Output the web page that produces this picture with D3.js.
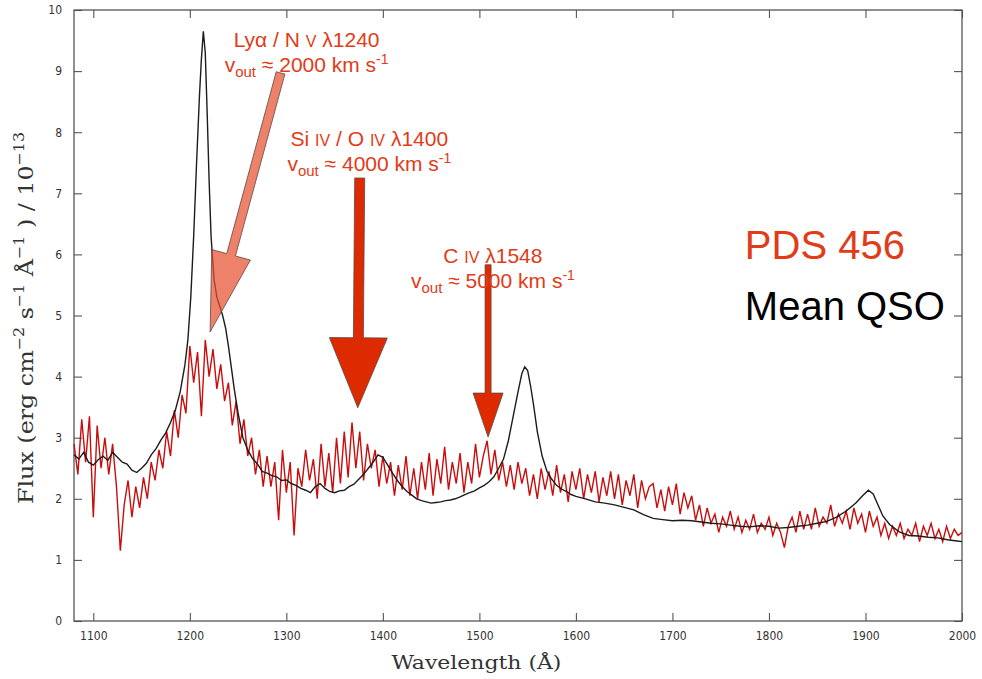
<!DOCTYPE html>
<html>
<head>
<meta charset="utf-8">
<script src="https://cdn.jsdelivr.net/npm/d3@7"></script>
<style>
body { margin: 0; background: #fff; }
svg { display: block; }
.axis text { font-family: "Liberation Sans Narrow", "DejaVu Sans Condensed", "Liberation Sans", sans-serif; font-size: 12px; fill: #333; }
.axis line { stroke: #555; stroke-width: 1.1; }
.note { font-family: "Liberation Sans", Arial, sans-serif; fill: #e23b17; }
</style>
</head>
<body>
<svg width="982" height="679"></svg>
<script>
// axis ranges + ticks
var waveDomain = [1080, 2000];
var fluxDomain = [0, 10];
var xTicks = [1100, 1200, 1300, 1400, 1500, 1600, 1700, 1800, 1900, 2000];
var yTicks = [0, 1, 2, 3, 4, 5, 6, 7, 8, 9, 10];

// Mean QSO composite (black)
var qsoWave = [1080, 1085, 1090, 1095, 1100, 1105, 1110, 1115, 1120, 1125, 1130, 1135, 1140, 1145,
               1150, 1155, 1160, 1165, 1170, 1175, 1180, 1185, 1190, 1195, 1198, 1201, 1204, 1207,
               1210, 1212, 1214, 1216, 1218, 1220, 1222, 1225, 1228, 1231, 1234, 1237, 1240, 1243,
               1246, 1250, 1255, 1260, 1265, 1270, 1275, 1280, 1285, 1290, 1295, 1300, 1305, 1310,
               1315, 1320, 1325, 1330, 1335, 1340, 1345, 1350, 1355, 1360, 1365, 1370, 1375, 1380,
               1385, 1390, 1395, 1400, 1405, 1410, 1415, 1420, 1425, 1430, 1435, 1440, 1445, 1450,
               1455, 1460, 1465, 1470, 1475, 1480, 1485, 1490, 1495, 1500, 1505, 1510, 1515, 1520,
               1525, 1530, 1535, 1540, 1544, 1547, 1550, 1553, 1556, 1560, 1565, 1570, 1575, 1580,
               1585, 1590, 1595, 1600, 1610, 1620, 1630, 1640, 1650, 1660, 1670, 1680, 1690, 1700,
               1710, 1720, 1730, 1740, 1750, 1760, 1770, 1780, 1790, 1800, 1810, 1820, 1830, 1840,
               1850, 1860, 1870, 1880, 1890, 1897, 1903, 1908, 1913, 1918, 1925, 1935, 1945, 1955,
               1965, 1975, 1985, 1995, 2000];
var qsoFlux = [2.72, 2.65, 2.76, 2.6, 2.55, 2.64, 2.7, 2.63, 2.76, 2.68, 2.6, 2.57, 2.47, 2.43,
               2.5, 2.58, 2.72, 2.82, 2.96, 3.08, 3.25, 3.45, 3.75, 4.2, 4.6, 5.3, 6.3, 7.5,
               8.6, 9.2, 9.65, 9.3, 8.3, 7.2, 6.3, 5.6, 5.3, 5.15, 5.0, 4.8, 4.5, 4.15,
               3.8, 3.4, 3.0, 2.8, 2.66, 2.57, 2.45, 2.42, 2.38, 2.36, 2.3, 2.31, 2.25, 2.22,
               2.17, 2.14, 2.1, 2.2, 2.25, 2.17, 2.12, 2.1, 2.13, 2.14, 2.2, 2.24, 2.32, 2.4,
               2.5, 2.6, 2.72, 2.68, 2.55, 2.42, 2.3, 2.2, 2.12, 2.06, 2.0, 1.97, 1.95, 1.93,
               1.94, 1.95, 1.97, 1.98, 2.0, 2.03, 2.07, 2.1, 2.13, 2.18, 2.22, 2.28, 2.36, 2.5,
               2.65, 2.95, 3.35, 3.75, 4.05, 4.16, 4.1, 3.85, 3.55, 3.1, 2.7, 2.45, 2.32, 2.22,
               2.16, 2.12, 2.07, 2.04, 2.0, 1.95, 1.93, 1.9, 1.86, 1.82, 1.74, 1.68, 1.66, 1.64,
               1.65, 1.64, 1.62, 1.6, 1.59, 1.57, 1.55, 1.54, 1.56, 1.55, 1.52, 1.53, 1.55, 1.57,
               1.6, 1.63, 1.7, 1.8, 1.93, 2.05, 2.14, 2.08, 1.9, 1.72, 1.58, 1.46, 1.4, 1.39,
               1.37, 1.36, 1.33, 1.31, 1.3];

// PDS 456 spectrum (red), 4 A bins starting at 1080 A
var pdsStart = 1080, pdsStep = 4;
var pdsFlux = [
  2.9, 2.4, 3.3, 2.6, 3.35, 1.7, 3.2, 2.5, 3.0, 2.4,
  2.9, 2.2, 1.15, 1.9, 2.3, 1.7, 2.2, 1.85, 2.35, 2.0,
  2.6, 2.3, 2.8, 2.5, 3.1, 2.7, 3.45, 3.0, 3.7, 3.4,
  4.5, 3.9, 4.4, 3.35, 4.6, 4.0, 4.45, 3.8, 4.2, 3.6,
  3.9, 3.2, 3.6, 2.9, 3.3, 2.7, 3.0, 2.4, 2.8, 2.2,
  2.7, 2.2, 2.6, 1.65, 2.8, 2.1, 2.6, 1.4, 2.5, 2.2,
  2.8, 2.3, 2.65, 2.0, 2.9, 2.2, 2.75, 2.1, 3.0, 2.25,
  3.1, 2.35, 3.25, 2.5, 3.1, 2.3, 2.9, 2.5, 2.8, 2.2,
  2.7, 2.25, 2.6, 2.05, 2.55, 2.15, 2.7, 2.05, 2.5, 2.0,
  2.6, 2.15, 2.75, 2.05, 2.65, 2.25, 2.85, 2.15, 2.6, 2.25,
  2.75, 2.1, 2.6, 2.25, 2.9, 2.35, 2.7, 2.95, 2.4, 2.8,
  2.3, 2.6, 2.2, 2.55, 2.15, 2.6, 2.25, 2.5, 2.05, 2.4,
  2.0, 2.5, 2.15, 2.45, 2.05, 2.55, 2.1, 2.4, 1.95, 2.45,
  2.15, 2.5, 2.0, 2.4, 2.1, 2.45, 1.95, 2.35, 2.05, 2.45,
  2.0, 2.4, 1.9, 2.3, 2.05, 2.4, 1.85, 2.3, 2.0, 2.2,
  2.25, 1.85, 2.15, 1.8, 2.2, 1.9, 2.25, 1.75, 2.1, 1.85,
  2.05, 1.65, 1.9, 1.55, 1.85, 1.6, 1.75, 1.45, 1.7, 1.55,
  1.8, 1.5, 1.7, 1.45, 1.65, 1.5, 1.75, 1.45, 1.6, 1.5,
  1.7, 1.4, 1.6, 1.45, 1.2, 1.55, 1.7, 1.45, 1.8, 1.5,
  1.75, 1.5, 1.85, 1.55, 1.7, 1.6, 1.9, 1.55, 1.75, 1.6,
  1.8, 1.5, 1.85, 1.6, 1.75, 1.45, 1.8, 1.55, 1.7, 1.4,
  1.6, 1.35, 1.55, 1.4, 1.6, 1.35, 1.5, 1.4, 1.6, 1.3,
  1.55, 1.4, 1.6, 1.35, 1.5, 1.3, 1.55, 1.35, 1.5, 1.4,
  1.45];

// absorption arrows: [wavelength, flux] of tail and tip
var arrowNames = ["lya", "siiv", "civ"];
var arrowTail = [[1294, 8.97], [1376, 7.25], [1509, 5.83]];
var arrowTip  = [[1221, 4.73], [1374, 3.49], [1509, 3.01]];

// label anchors (line centres), [wavelength, flux]
var labelPos = [[1321, 9.39], [1386, 7.77], [1514, 5.86]];
var labelVel = ["2000", "4000", "5000"];


var svg = d3.select("svg"),
    margin = {top: 10, right: 20, bottom: 58, left: 74},
    width = +svg.attr("width") - margin.left - margin.right,
    height = +svg.attr("height") - margin.top - margin.bottom,
    g = svg.append("g").attr("transform", "translate(" + margin.left + "," + margin.top + ")");

var x = d3.scaleLinear().domain(waveDomain).range([0, width]);
var y = d3.scaleLinear().domain(fluxDomain).range([height, 0]);

var noLabel = function() { return ""; };

// axes, ticks pointing inwards on all four sides
g.append("g")
    .attr("class", "axis")
    .attr("transform", "translate(0," + height + ")")
    .call(d3.axisBottom(x).tickValues(xTicks).tickSize(-8).tickPadding(10).tickFormat(d3.format("d")));
g.append("g")
    .attr("class", "axis")
    .call(d3.axisLeft(y).tickValues(yTicks).tickSize(-8).tickPadding(12));
g.append("g")
    .attr("class", "axis")
    .call(d3.axisTop(x).tickValues(xTicks).tickSize(-8).tickFormat(noLabel));
g.append("g")
    .attr("class", "axis")
    .attr("transform", "translate(" + width + ",0)")
    .call(d3.axisRight(y).tickValues(yTicks).tickSize(-8).tickFormat(noLabel));
g.selectAll(".axis .domain").remove();

g.append("rect")
    .attr("width", width)
    .attr("height", height)
    .attr("fill", "none")
    .attr("stroke", "#555")
    .attr("stroke-width", 1.3);

// spectra
var pds = pdsFlux.map(function(f, i) { return [pdsStart + i * pdsStep, f]; });
var qso = qsoWave.map(function(w, i) { return [w, qsoFlux[i]]; });

var line = d3.line()
    .x(function(d) { return x(d[0]); })
    .y(function(d) { return y(d[1]); });

g.append("path")
    .datum(pds)
    .attr("fill", "none")
    .attr("stroke", "#c90d0d")
    .attr("stroke-width", 1.4)
    .attr("stroke-linejoin", "miter")
    .attr("d", line);

g.append("path")
    .datum(qso)
    .attr("fill", "none")
    .attr("stroke", "#1c1c1c")
    .attr("stroke-width", 1.4)
    .attr("d", line);

// arrows
var arrowStyle = {
    lya:  {shaft: 9,  headW: 40, headL: 80, fill: "#e8502f", opacity: 0.72},
    siiv: {shaft: 10, headW: 58, headL: 70, fill: "#dd2a00", opacity: 1},
    civ:  {shaft: 6,  headW: 30, headL: 44, fill: "#dd2a00", opacity: 1}
};

function arrowPoints(t, p, s) {
    var dx = p[0] - t[0], dy = p[1] - t[1], len = Math.sqrt(dx * dx + dy * dy);
    var ux = dx / len, uy = dy / len, nx = -uy, ny = ux;
    var bx = p[0] - ux * s.headL, by = p[1] - uy * s.headL;
    var a = s.shaft / 2, b = s.headW / 2;
    return [
        [t[0] + nx * a, t[1] + ny * a],
        [bx + nx * a, by + ny * a],
        [bx + nx * b, by + ny * b],
        [p[0], p[1]],
        [bx - nx * b, by - ny * b],
        [bx - nx * a, by - ny * a],
        [t[0] - nx * a, t[1] - ny * a]
    ];
}

arrowNames.forEach(function(name, i) {
    var s = arrowStyle[name];
    var t = [x(arrowTail[i][0]), y(arrowTail[i][1])];
    var p = [x(arrowTip[i][0]), y(arrowTip[i][1])];
    g.append("polygon")
        .attr("points", arrowPoints(t, p, s).map(function(q) { return q.join(","); }).join(" "))
        .attr("fill", s.fill)
        .attr("fill-opacity", s.opacity)
        .attr("stroke", "#5a4a44")
        .attr("stroke-width", 0.8);
});

// line labels
function smallCap(sel, txt) {
    sel.append("tspan").attr("font-size", "16px").text(txt);
}
var titles = g.selectAll(".title1")
    .data(labelPos)
  .enter().append("text")
    .attr("class", "note")
    .attr("x", function(d) { return x(d[0]); })
    .attr("y", function(d) { return y(d[1]); })
    .attr("text-anchor", "middle")
    .attr("font-size", "21px");

var t0 = d3.select(titles.nodes()[0]);
t0.append("tspan").text("Ly\u03b1 / N ");
smallCap(t0, "V");
t0.append("tspan").text(" \u03bb1240");

var t1 = d3.select(titles.nodes()[1]);
t1.append("tspan").text("Si ");
smallCap(t1, "IV");
t1.append("tspan").text(" / O ");
smallCap(t1, "IV");
t1.append("tspan").text(" \u03bb1400");

var t2 = d3.select(titles.nodes()[2]);
t2.append("tspan").text("C ");
smallCap(t2, "IV");
t2.append("tspan").text(" \u03bb1548");

g.selectAll(".vout")
    .data(labelPos)
  .enter().append("text")
    .attr("class", "note")
    .attr("x", function(d) { return x(d[0]); })
    .attr("y", function(d) { return y(d[1]) + 25; })
    .attr("text-anchor", "middle")
    .attr("font-size", "21px")
    .each(function(d, i) {
        var t = d3.select(this);
        t.append("tspan").text("v");
        t.append("tspan").attr("font-size", "15px").attr("dy", 5).text("out");
        t.append("tspan").attr("dy", -5).text(" \u2248 " + labelVel[i] + " km s");
        t.append("tspan").attr("font-size", "14px").attr("dy", -8).text("-1");
    });

// legend
g.append("text")
    .attr("class", "note")
    .attr("x", x(1775))
    .attr("y", y(5.92))
    .attr("font-size", "40px")
    .text("PDS 456");
g.append("text")
    .attr("x", x(1775))
    .attr("y", y(4.93))
    .attr("font-family", "Liberation Sans, Arial, sans-serif")
    .attr("font-size", "40px")
    .attr("fill", "#000")
    .text("Mean QSO");

// axis titles
svg.append("text")
    .attr("x", margin.left + x(1500) - 3)
    .attr("y", 669)
    .attr("text-anchor", "middle")
    .attr("font-family", "DejaVu Serif Condensed, Liberation Serif, serif")
    .attr("font-size", "19px")
    .attr("fill", "#333")
    .attr("textLength", 170)
    .attr("lengthAdjust", "spacingAndGlyphs")
    .text("Wavelength (\u00c5)");

var yl = svg.append("text")
    .attr("transform", "translate(33,318) rotate(-90)")
    .attr("text-anchor", "middle")
    .attr("font-family", "DejaVu Serif Condensed, Liberation Serif, serif")
    .attr("font-size", "21px")
    .attr("fill", "#333")
    .attr("textLength", 372)
    .attr("lengthAdjust", "spacingAndGlyphs");
yl.append("tspan").text("Flux (erg cm");
yl.append("tspan").attr("font-size", "14px").attr("dy", -9).text("\u22122");
yl.append("tspan").attr("dy", 9).text("  s");
yl.append("tspan").attr("font-size", "14px").attr("dy", -9).text("\u22121");
yl.append("tspan").attr("dy", 9).text(" \u00c5");
yl.append("tspan").attr("font-size", "14px").attr("dy", -9).text("\u22121");
yl.append("tspan").attr("dy", 9).text(" )  /  10");
yl.append("tspan").attr("font-size", "14px").attr("dy", -9).text("\u221213");
</script>
</body>
</html>
